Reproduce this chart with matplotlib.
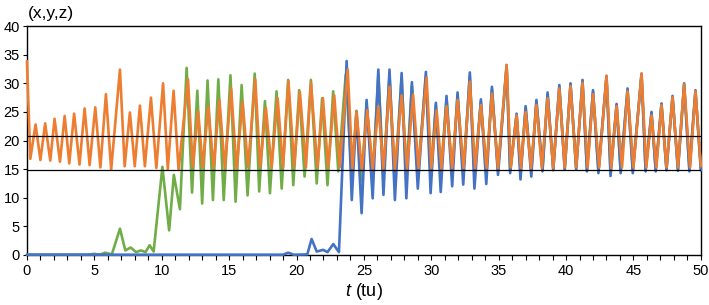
import numpy as np
import matplotlib
matplotlib.use('Agg')
import matplotlib.pyplot as plt
from matplotlib.ticker import MultipleLocator

plt.rcParams['font.family'] = ['Liberation Sans', 'DejaVu Sans']
plt.rcParams['mathtext.fontset'] = 'custom'
plt.rcParams['mathtext.it'] = 'Liberation Sans:italic'
plt.rcParams['mathtext.rm'] = 'Liberation Sans'

# z (orange): start, then alternating trough / peak (time, value)
z_t = [0.0, 0.25, 0.64, 1.0, 1.35, 1.73, 2.05, 2.45, 2.8, 3.14, 3.5, 3.9, 4.28, 4.65,
       5.07, 5.45, 5.86, 6.25, 6.9, 7.25, 7.64, 8.0, 8.38, 8.75, 9.2, 9.6, 10.1,
       10.45, 10.88, 11.25, 11.95, 12.3, 12.7, 13.05, 13.45, 13.85, 14.28, 14.68,
       15.15, 15.55, 16.0, 16.4, 16.94, 17.3, 17.73, 18.15, 18.6, 19.0, 19.4, 19.83,
       20.25, 20.7, 21.07, 21.55, 21.96, 22.35, 22.8, 23.2, 23.8, 24.15, 24.45,
       24.85, 25.25, 25.65, 26.07, 26.45, 26.9, 27.3, 27.8, 28.2, 28.65, 29.05,
       29.65, 30.0, 30.4, 30.75, 31.13, 31.55, 31.95, 32.4, 32.86, 33.25, 33.68,
       34.1, 34.5, 34.95, 35.59, 35.9, 36.33, 36.65, 37.0, 37.4, 37.8, 38.2, 38.63,
       39.05, 39.5, 39.9, 40.33, 40.75, 41.22, 41.6, 42.0, 42.45, 43.0, 43.35,
       43.75, 44.15, 44.56, 45.0, 45.6, 45.95, 46.34, 46.7, 47.08, 47.45, 47.9,
       48.3, 48.76, 49.2, 49.6, 50.0]
z_v = [33.9, 16.8, 22.8, 16.6, 23.0, 16.5, 23.8, 16.3, 24.3, 16.0, 24.7, 15.8, 25.6, 15.7,
       25.8, 15.3, 28.1, 14.9, 32.4, 15.5, 24.9, 15.5, 26.1, 15.5, 27.5, 15.2, 30.0,
       15.0, 28.7, 14.9, 30.7, 15.4, 25.1, 15.3, 26.0, 15.3, 27.1, 15.2,
       29.1, 15.1, 26.8, 15.4, 30.7, 15.4, 25.7, 15.3, 27.4, 15.3, 30.4, 15.4,
       28.5, 15.3, 30.1, 15.3, 27.4, 15.2, 27.9, 15.3, 32.4, 15.2, 25.0,
       15.0, 25.3, 15.1, 26.0, 15.1, 29.4, 15.0, 27.9, 15.1, 28.0, 15.2,
       31.0, 15.2, 25.3, 15.1, 26.0, 15.2, 27.1, 15.2, 30.3, 15.2, 26.2,
       15.2, 28.2, 15.2, 33.2, 15.3, 24.4, 15.2, 25.0, 15.2, 26.2, 15.2, 27.4,
       15.2, 29.1, 15.3, 29.5, 15.3, 30.1, 15.3, 28.1, 15.3, 31.3, 15.2,
       26.0, 15.3, 28.6, 15.3, 31.7, 15.3, 24.4, 15.3, 26.2, 15.3, 27.6,
       15.3, 29.8, 15.3, 28.6, 15.5]

# x (blue)
x_t = [0.0, 19.0, 19.38, 19.8, 20.8, 21.12, 21.5, 21.98, 22.3, 22.73, 23.15, 23.72,
       24.1, 24.45, 24.83, 25.2, 25.65, 26.07, 26.45, 26.9, 27.3, 27.8, 28.15,
       28.56, 29.0, 29.6, 29.95, 30.34, 30.7, 31.13, 31.55, 31.95, 32.37, 32.86,
       33.2, 33.68, 34.08, 34.5, 34.95, 35.59, 35.85, 36.33, 36.62, 37.0, 37.42,
       37.8, 38.25, 38.63, 39.05, 39.5, 39.9, 40.33, 40.75, 41.22, 41.55, 42.0,
       42.4, 43.0, 43.3, 43.75, 44.05, 44.56, 44.95, 45.6, 45.9, 46.34, 46.65,
       47.08, 47.45, 47.9, 48.3, 48.76, 49.15, 49.6, 50.0]
x_v = [0.05, 0.05, 0.4, 0.05, 0.1, 2.8, 0.6, 0.9, 0.5, 1.9, 0.5, 33.9,
       9.6, 25.0, 7.3, 27.1, 9.9, 32.4, 10.5, 32.4, 9.6, 31.8, 9.9,
       30.2, 11.6, 32.0, 10.8, 26.6, 11.0, 27.8, 12.0, 28.4, 12.3, 31.9,
       11.6, 27.2, 12.4, 29.4, 14.0, 33.2, 14.3, 24.7, 13.2, 26.0, 13.7,
       27.1, 14.6, 28.4, 14.8, 29.7, 14.9, 30.0, 15.0, 30.6, 14.6, 28.8,
       14.3, 31.3, 13.8, 26.4, 14.3, 29.1, 14.3, 31.7, 14.6, 25.0, 14.6,
       26.5, 14.8, 27.8, 14.7, 30.0, 14.6, 28.8, 14.8]

# y (green)
y_t = [0.0, 4.5, 5.0, 5.4, 5.8, 6.3, 6.9, 7.3, 7.7, 8.1, 8.45, 8.8, 9.1, 9.4, 10.05,
       10.55, 10.9, 11.35, 11.85, 12.25, 12.64, 13.0, 13.4, 13.8, 14.2, 14.6, 15.1,
       15.48, 15.93, 16.37, 16.9, 17.23, 17.66, 18.03, 18.52, 18.9, 19.38, 19.76,
       20.2, 20.6, 21.07, 21.5, 21.9, 22.3, 22.72, 23.1, 23.65, 24.1, 24.45, 24.83,
       25.2, 25.65, 26.07, 26.45, 26.9, 27.3, 27.8, 28.15, 28.56, 29.0, 29.6,
       29.95, 30.34, 30.7, 31.13, 31.55, 31.95, 32.37, 32.86, 33.2, 33.68, 34.08,
       34.5, 34.95, 35.59, 35.85, 36.33, 36.62, 37.0, 37.42, 37.8, 38.25, 38.63,
       39.05, 39.5, 39.9, 40.33, 40.75, 41.22, 41.55, 42.0, 42.4, 43.0, 43.3,
       43.75, 44.05, 44.56, 44.95, 45.6, 45.9, 46.34, 46.65, 47.08, 47.45, 47.9,
       48.3, 48.76, 49.15, 49.6, 50.0]
y_v = [0.05, 0.05, 0.2, 0.05, 0.4, 0.1, 4.6, 0.8, 1.3, 0.5, 0.8, 0.5, 1.7, 0.6, 15.4,
       4.3, 14.0, 8.0, 32.7, 10.9, 28.7, 9.0, 30.5, 9.6, 30.7, 9.6, 31.4,
       9.3, 29.7, 10.4, 31.7, 11.1, 26.9, 10.8, 28.6, 11.6, 30.6, 12.2,
       28.8, 13.7, 30.6, 12.5, 27.4, 12.2, 28.6, 14.6, 31.5, 13.5, 25.2, 13.0,
       26.5, 13.8, 31.5, 13.8, 31.5, 13.7, 31.0, 13.8, 29.5, 14.2, 31.2,
       14.0, 26.2, 14.2, 27.3, 14.4, 28.0, 14.5, 31.3, 14.3, 26.8, 14.6,
       29.0, 14.8, 32.8, 14.9, 24.5, 14.8, 25.7, 14.9, 26.8, 15.0, 28.0,
       15.0, 29.4, 15.1, 29.8, 15.1, 30.3, 15.0, 28.5, 14.9, 31.0, 14.8,
       26.2, 14.9, 28.8, 14.9, 31.5, 15.0, 24.8, 15.0, 26.3, 15.0, 27.6,
       15.0, 29.8, 15.0, 28.6, 15.0]

# reference levels
levels = [20.85, 14.8]

fig = plt.figure(figsize=(7.09, 3.05), dpi=100)
ax = fig.add_axes([0.038, 0.164, 0.9505, 0.7505])

style = dict(lw=1.9, solid_joinstyle='round', solid_capstyle='round', clip_on=False)
ax.plot(y_t, y_v, color='#70AD47', zorder=3, **style)
ax.plot(x_t, x_v, color='#4472C4', zorder=4, **style)
ax.plot(z_t, z_v, color='#ED7D31', zorder=5, **style)
for lv in levels:
    ax.axhline(lv, color='black', lw=0.9, zorder=6)

ax.set_xlim(0, 50)
ax.set_ylim(0, 40)
ax.xaxis.set_major_locator(MultipleLocator(5))
ax.xaxis.set_minor_locator(MultipleLocator(1))
ax.yaxis.set_major_locator(MultipleLocator(5))
ax.tick_params(axis='x', which='both', direction='out', length=3.5, width=0.8,
               labelsize=10.5, pad=3)
ax.tick_params(axis='y', which='major', direction='out', length=3, width=0.8,
               labelsize=10.5, pad=2)
for s in ax.spines.values():
    s.set_linewidth(1.0)
    s.set_color('black')

ax.set_xlabel(r'$t$ (tu)', fontsize=13, labelpad=2)
fig.text(0.04, 0.955, '(x,y,z)', fontsize=12.5, ha='left', va='center')

fig.savefig('out.png', dpi=100)
